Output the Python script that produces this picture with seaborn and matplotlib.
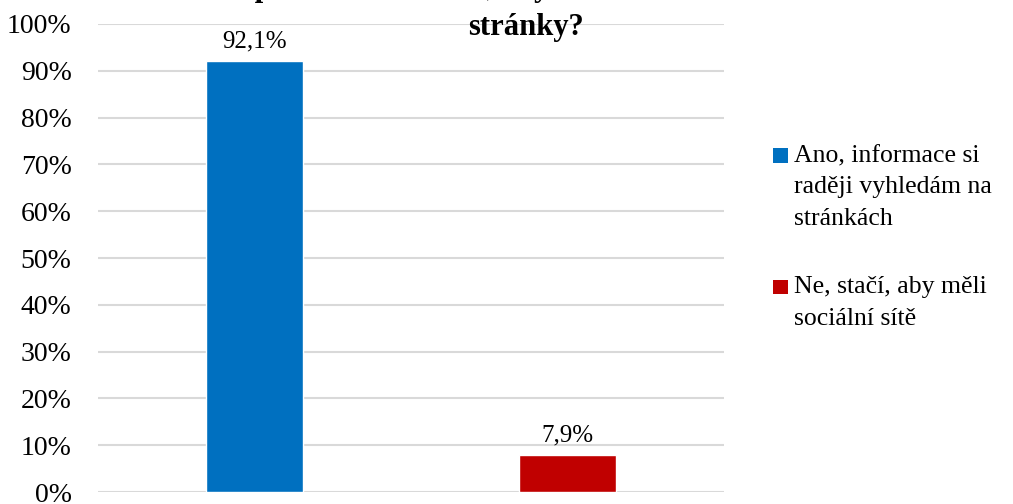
import matplotlib
matplotlib.use("Agg")
import matplotlib.pyplot as plt
from matplotlib.patches import Rectangle
from matplotlib.offsetbox import (AnchoredOffsetbox, DrawingArea, HPacker,
                                  TextArea, VPacker)
from matplotlib.ticker import MultipleLocator, FuncFormatter
import seaborn as sns
import pandas as pd

categories = ["Ano, informace si\nraději vyhledám na\nstránkách",
              "Ne, stačí, aby měli\nsociální sítě"]
values = [92.1, 7.9]
colors = ["#0070C0", "#C00000"]
title = "Opravdu očekáváte, aby firma měla i webové\nstránky?"

sns.set_theme(style="white")
plt.rcParams["font.family"] = ["Liberation Serif", "DejaVu Serif"]
plt.rcParams["text.color"] = "black"

df = pd.DataFrame({"odpoved": categories, "podil": values})

fig = plt.figure(figsize=(10.13, 5.04), dpi=100)
ax = fig.add_axes([98 / 1013, 12 / 504, 626 / 1013, 468 / 504])

sns.barplot(data=df, x="odpoved", y="podil", hue="odpoved",
            palette=colors, width=0.31, dodge=False, legend=False,
            saturation=1, ax=ax)

ax.set_ylim(0, 100)
ax.yaxis.set_major_locator(MultipleLocator(10))
ax.yaxis.set_major_formatter(FuncFormatter(lambda v, p: f"{v:.0f}%"))
ax.grid(axis="y", color="#d9d9d9", linewidth=1.5)
ax.set_axisbelow(True)
for s in ax.spines.values():
    s.set_visible(False)
ax.set_xticks([])
ax.set_xlabel("")
ax.set_ylabel("")
ax.tick_params(axis="y", length=0, pad=19, labelsize=20, labelcolor="black")
ax.set_xlim(-0.5, 1.5)

for cont in ax.containers:
    ax.bar_label(cont, labels=[f"{v:.1f}%".replace(".", ",") for v in cont.datavalues],
                 padding=6, fontsize=18, color="black")

# legend: square marker aligned with the first line of each wrapped label
entries = []
for c, lab in zip(colors, categories):
    da = DrawingArea(11, 20, 0, 0)
    da.add_artist(Rectangle((0, 7), 10.5, 10.5, facecolor=c, edgecolor="none"))
    ta = TextArea(lab, textprops=dict(fontsize=18.5, color="black",
                                      linespacing=1.55))
    entries.append(HPacker(children=[da, ta], align="top", pad=0, sep=4))
box = VPacker(children=entries, align="left", pad=0, sep=33.6)
anchored = AnchoredOffsetbox(loc="upper left", child=box, frameon=False,
                             bbox_to_anchor=(773 / 1013, 1 - 145 / 504),
                             bbox_transform=fig.transFigure, pad=0,
                             borderpad=0)
fig.add_artist(anchored)

fig.text(526 / 1013, 1 - 42 / 504, title, ha="center", va="bottom",
         fontsize=22, fontweight="bold", linespacing=1.46, color="black")

fig.savefig("out.png", dpi=100)
